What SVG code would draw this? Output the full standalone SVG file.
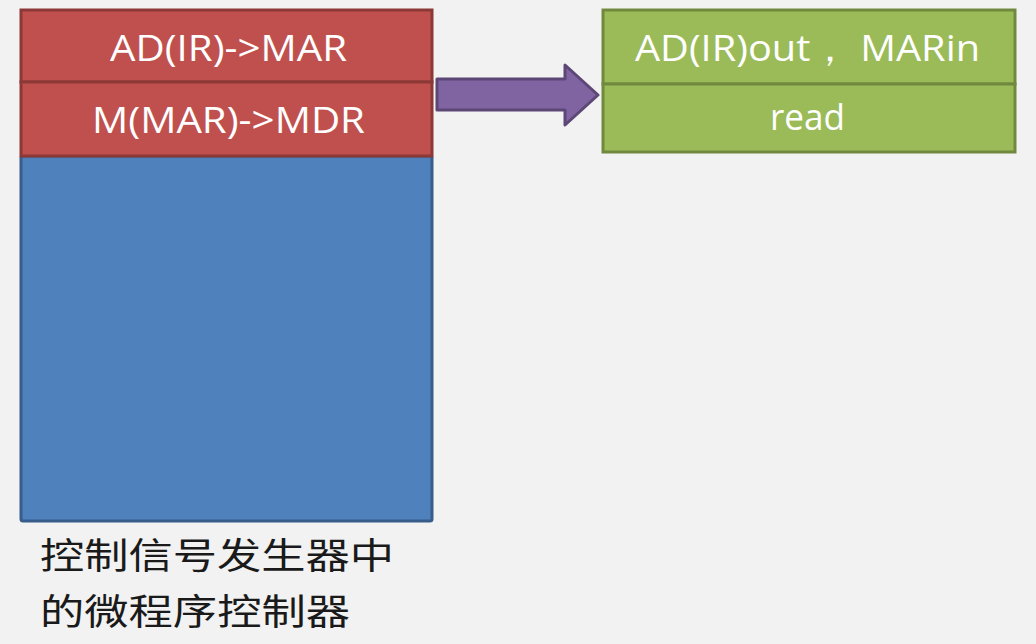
<svg xmlns="http://www.w3.org/2000/svg" width="1036" height="644" viewBox="0 0 1036 644">
<style>
.lbl{font-family:"Open Sans","Liberation Sans",sans-serif;font-size:37px;fill:#ffffff}
.red{fill:#c0504d;stroke:#8c3836;stroke-width:3}
.grn{fill:#9bbb59;stroke:#71893f;stroke-width:3}
.blu{fill:#4f81bd;stroke:#385d8a;stroke-width:3}
.cjk{font-family:"Noto Sans CJK SC",sans-serif;font-size:36px;fill:#1a1a1a}
</style>
<rect width="1036" height="644" fill="#f2f2f2"/>
<g id="controller">
<rect class="blu" x="21" y="156" width="411" height="365" rx="2"/>
</g>
<g id="step1">
<rect class="red" x="21" y="10" width="411" height="72"/>
<text class="lbl" x="110" y="61" textLength="237" lengthAdjust="spacingAndGlyphs">AD(IR)-&gt;MAR</text>
</g>
<g id="step2">
<rect class="red" x="21" y="82" width="411" height="74"/>
<text class="lbl" x="92" y="133" textLength="273" lengthAdjust="spacingAndGlyphs">M(MAR)-&gt;MDR</text>
</g>
<g id="signal1">
<rect class="grn" x="603" y="10" width="412" height="74"/>
<text class="lbl" x="635" y="61" textLength="345" lengthAdjust="spacingAndGlyphs">AD(IR)out， MARin</text>
</g>
<g id="signal2">
<rect class="grn" x="603" y="84" width="412" height="68"/>
<text class="lbl" x="770" y="130" textLength="75" lengthAdjust="spacingAndGlyphs">read</text>
</g>
<g id="connectors">
<path d="M437,79 L565,79 L565,65 L598,95 L565,125 L565,110 L437,110 Z" fill="#8064a2" stroke="#5c4776" stroke-width="3" stroke-linejoin="round"/>
</g>
<g id="caption">
<text class="cjk" x="40" y="569" textLength="354" lengthAdjust="spacingAndGlyphs">控制信号发生器中</text>
<text class="cjk" x="40" y="625" textLength="310" lengthAdjust="spacingAndGlyphs">的微程序控制器</text>
</g>
</svg>
